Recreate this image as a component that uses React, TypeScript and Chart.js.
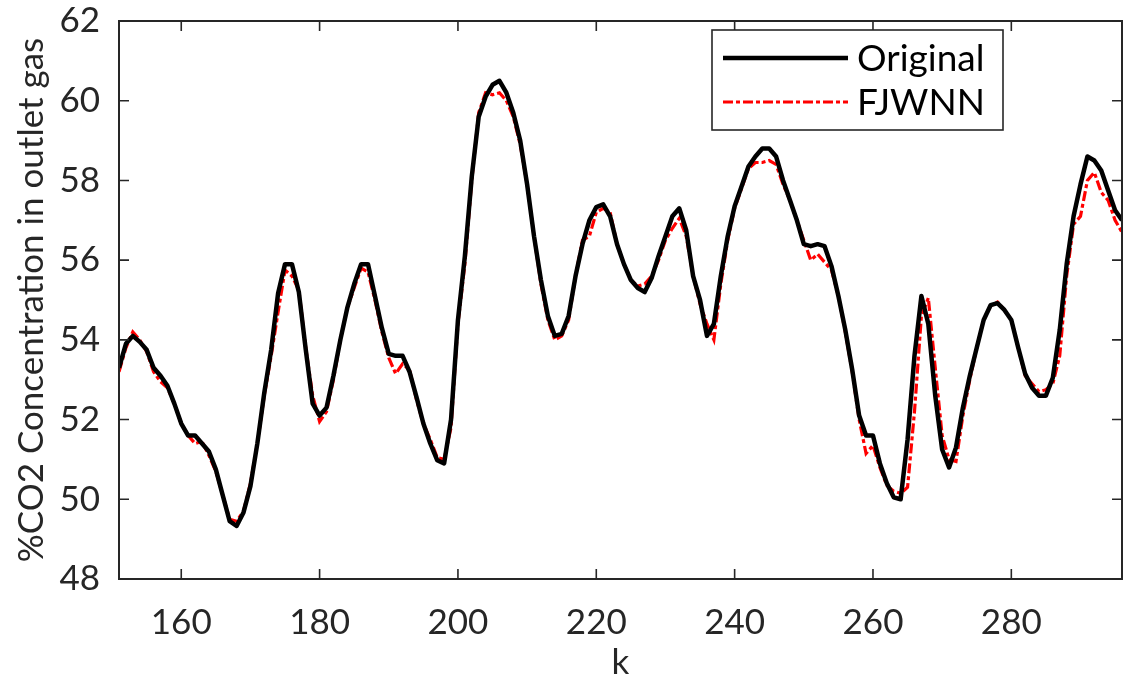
import React, { useEffect, useRef } from 'react';
import { Chart, registerables } from 'chart.js';

Chart.register(...registerables);

const kValues = [
  151, 152, 153, 154, 155, 156, 157, 158, 159, 160,
  161, 162, 163, 164, 165, 166, 167, 168, 169, 170,
  171, 172, 173, 174, 175, 176, 177, 178, 179, 180,
  181, 182, 183, 184, 185, 186, 187, 188, 189, 190,
  191, 192, 193, 194, 195, 196, 197, 198, 199, 200,
  201, 202, 203, 204, 205, 206, 207, 208, 209, 210,
  211, 212, 213, 214, 215, 216, 217, 218, 219, 220,
  221, 222, 223, 224, 225, 226, 227, 228, 229, 230,
  231, 232, 233, 234, 235, 236, 237, 238, 239, 240,
  241, 242, 243, 244, 245, 246, 247, 248, 249, 250,
  251, 252, 253, 254, 255, 256, 257, 258, 259, 260,
  261, 262, 263, 264, 265, 266, 267, 268, 269, 270,
  271, 272, 273, 274, 275, 276, 277, 278, 279, 280,
  281, 282, 283, 284, 285, 286, 287, 288, 289, 290,
  291, 292, 293, 294, 295, 296,
];

const originalValues = [
  53.3, 53.9, 54.1, 53.95, 53.75, 53.3, 53.1, 52.85, 52.4, 51.9,
  51.6, 51.6, 51.4, 51.2, 50.75, 50.1, 49.45, 49.33, 49.67, 50.33,
  51.4, 52.67, 53.75, 55.17, 55.9, 55.9, 55.2, 53.75, 52.4, 52.1,
  52.3, 53.1, 54.0, 54.8, 55.4, 55.9, 55.9, 55.1, 54.3, 53.65,
  53.6, 53.6, 53.2, 52.57, 51.9, 51.4, 50.98, 50.9, 52.0, 54.5,
  56.1, 58.1, 59.6, 60.1, 60.4, 60.5, 60.2, 59.7, 59.0, 57.9,
  56.6, 55.5, 54.6, 54.1, 54.15, 54.6, 55.6, 56.4, 57.0, 57.33,
  57.4, 57.1, 56.4, 55.9, 55.5, 55.3, 55.2, 55.55, 56.1, 56.6,
  57.1, 57.3, 56.75, 55.6, 55.0, 54.1, 54.4, 55.6, 56.6, 57.35,
  57.85, 58.35, 58.6, 58.8, 58.8, 58.6, 58.0, 57.5, 57.0, 56.4,
  56.35, 56.4, 56.35, 55.85, 55.1, 54.25, 53.25, 52.1, 51.6, 51.6,
  50.9, 50.4, 50.05, 50.0, 51.5, 53.6, 55.1, 54.4, 52.6, 51.25,
  50.8, 51.3, 52.3, 53.1, 53.8, 54.5, 54.87, 54.92, 54.75, 54.5,
  53.8, 53.15, 52.8, 52.6, 52.6, 53.05, 54.25, 55.9, 57.1, 57.9,
  58.6, 58.5, 58.25, 57.75, 57.25, 57.0,
];

const fjwnnValues = [
  53.2, 53.8, 54.2, 54.0, 53.7, 53.2, 52.95, 52.8, 52.4, 51.9,
  51.6, 51.4, 51.45, 51.1, 50.7, 50.1, 49.5, 49.45, 49.7, 50.4,
  51.4, 52.6, 53.6, 54.7, 55.75, 55.6, 55.25, 53.8, 52.6, 51.95,
  52.2, 53.0, 54.0, 54.8, 55.3, 55.8, 55.7, 55.0, 54.2, 53.55,
  53.15, 53.4, 53.25, 52.5, 51.9, 51.5, 51.05, 51.0, 51.8, 54.4,
  55.9, 58.0, 59.7, 60.2, 60.15, 60.2, 60.0, 59.6, 58.9, 57.9,
  56.6, 55.4, 54.5, 54.0, 54.1, 54.5, 55.6, 56.5, 56.6, 57.2,
  57.3, 57.2, 56.4, 55.9, 55.5, 55.35, 55.4, 55.6, 56.0, 56.5,
  56.8, 57.05, 56.6, 55.6, 54.9, 54.4, 54.0, 55.4, 56.5, 57.3,
  57.8, 58.3, 58.45, 58.45, 58.5, 58.4, 57.9, 57.5, 57.0, 56.5,
  56.0, 56.15, 55.95, 55.75, 55.1, 54.2, 53.2, 52.0, 51.15, 51.35,
  50.8, 50.35, 50.2, 50.15, 50.3, 52.2, 54.6, 55.05, 53.3, 51.6,
  51.0, 50.95, 52.1, 53.0, 53.8, 54.5, 54.85, 54.95, 54.75, 54.5,
  53.8, 53.1, 52.9, 52.7, 52.75, 52.9, 53.6, 55.6, 56.9, 57.1,
  58.0, 58.2, 57.7, 57.5, 57.0, 56.7,
];

const xTicks = [160, 180, 200, 220, 240, 260, 280];
const yTicks = [48, 50, 52, 54, 56, 58, 60, 62];

const seriesNames = ['Original', 'FJWNN'];

const FONT = 'Lato, "Open Sans", sans-serif';
const AXIS_COLOR = '#262626';

const axesBoxPlugin = {
  id: 'axesBox',
  afterDatasetsDraw(chart: any) {
    const { ctx, chartArea } = chart;
    const xs = chart.scales.x;
    const ys = chart.scales.y;
    const tickLen = 10;
    ctx.save();
    ctx.strokeStyle = AXIS_COLOR;
    ctx.lineWidth = 2;
    ctx.beginPath();
    ctx.rect(chartArea.left, chartArea.top, chartArea.right - chartArea.left, chartArea.bottom - chartArea.top);
    ctx.stroke();
    ctx.lineWidth = 1.6;
    ctx.beginPath();
    xTicks.forEach((v) => {
      const px = xs.getPixelForValue(v);
      ctx.moveTo(px, chartArea.bottom);
      ctx.lineTo(px, chartArea.bottom - tickLen);
      ctx.moveTo(px, chartArea.top);
      ctx.lineTo(px, chartArea.top + tickLen);
    });
    yTicks.forEach((v) => {
      const py = ys.getPixelForValue(v);
      ctx.moveTo(chartArea.left, py);
      ctx.lineTo(chartArea.left + tickLen, py);
      ctx.moveTo(chartArea.right, py);
      ctx.lineTo(chartArea.right - tickLen, py);
    });
    ctx.stroke();
    ctx.restore();
  },
};

const boxLegendPlugin = {
  id: 'boxLegend',
  afterDraw(chart: any) {
    const { ctx, chartArea } = chart;
    const boxLeft = chartArea.right - 410;
    const boxTop = chartArea.top + 9;
    const boxW = 291;
    const boxH = 100;
    ctx.save();
    ctx.fillStyle = '#ffffff';
    ctx.fillRect(boxLeft, boxTop, boxW, boxH);
    ctx.strokeStyle = AXIS_COLOR;
    ctx.lineWidth = 1.6;
    ctx.strokeRect(boxLeft, boxTop, boxW, boxH);
    chart.data.datasets.forEach((ds: any, i: number) => {
      const y = boxTop + 28 + i * 44;
      ctx.save();
      ctx.strokeStyle = ds.borderColor;
      ctx.lineWidth = ds.borderWidth;
      ctx.setLineDash(ds.borderDash || []);
      ctx.beginPath();
      ctx.moveTo(boxLeft + 11, y);
      ctx.lineTo(boxLeft + 136, y);
      ctx.stroke();
      ctx.restore();
      ctx.fillStyle = '#000000';
      ctx.font = `37px ${FONT}`;
      ctx.textBaseline = 'middle';
      ctx.textAlign = 'left';
      ctx.fillText(ds.label, boxLeft + 145, y + 1);
    });
    ctx.restore();
  },
};

export default function App() {
  const canvasRef = useRef<HTMLCanvasElement | null>(null);

  useEffect(() => {
    if (!canvasRef.current) return;
    const origData = kValues.map((k, i) => ({ x: k, y: originalValues[i] }));
    const fjData = kValues.map((k, i) => ({ x: k, y: fjwnnValues[i] }));
    const tickFont = { family: FONT, size: 35, lineHeight: 1.0 };
    const chart = new Chart(canvasRef.current, {
      type: 'line',
      data: {
        datasets: [
          {
            label: seriesNames[0],
            data: origData,
            borderColor: '#000000',
            borderWidth: 4.5,
            pointRadius: 0,
            tension: 0,
            borderJoinStyle: 'round',
            fill: false,
          },
          {
            label: seriesNames[1],
            data: fjData,
            borderColor: '#ff0000',
            borderWidth: 3.2,
            borderDash: [10, 3, 4, 3],
            pointRadius: 0,
            tension: 0,
            fill: false,
          },
        ],
      },
      options: {
        animation: false,
        responsive: false,
        maintainAspectRatio: false,
        layout: { padding: { top: 21, right: 7, left: 0, bottom: 0 } },
        plugins: {
          legend: { display: false },
          tooltip: { enabled: false },
        },
        scales: {
          x: {
            type: 'linear',
            min: 151,
            max: 296,
            afterBuildTicks: (s: any) => {
              s.ticks = xTicks.map((v) => ({ value: v }));
            },
            afterFit: (s: any) => {
              s.height = 102;
              s.paddingLeft = 0;
              s.paddingRight = 0;
              s.paddingTop = 0;
              s.paddingBottom = 0;
            },
            grid: { display: false, drawTicks: false },
            border: { display: false },
            ticks: {
              font: tickFont,
              color: AXIS_COLOR,
              padding: 26,
              maxRotation: 0,
              autoSkip: false,
            },
            title: {
              display: true,
              text: 'k',
              font: { family: FONT, size: 35, lineHeight: 1.0 },
              color: AXIS_COLOR,
              padding: { top: 0, bottom: 1 },
            },
          },
          y: {
            type: 'linear',
            min: 48,
            max: 62,
            afterBuildTicks: (s: any) => {
              s.ticks = yTicks.map((v) => ({ value: v }));
            },
            afterFit: (s: any) => {
              s.width = 119;
              s.paddingLeft = 0;
              s.paddingRight = 0;
              s.paddingTop = 0;
              s.paddingBottom = 0;
            },
            grid: { display: false, drawTicks: false },
            border: { display: false },
            ticks: {
              font: tickFont,
              color: AXIS_COLOR,
              padding: 19,
            },
            title: {
              display: true,
              text: '%CO2 Concentration in outlet gas',
              font: { family: FONT, size: 35, lineHeight: 1.0 },
              color: AXIS_COLOR,
              padding: { top: 14, bottom: 0 },
            },
          },
        },
      },
      plugins: [axesBoxPlugin, boxLegendPlugin],
    } as any);
    return () => chart.destroy();
  }, []);

  return (
    <div style={{ position: 'fixed', left: 0, top: 0, width: 1129, height: 681, background: '#ffffff' }}>
      <canvas ref={canvasRef} width={1129} height={681} style={{ display: 'block', width: 1129, height: 681 }} />
    </div>
  );
}
